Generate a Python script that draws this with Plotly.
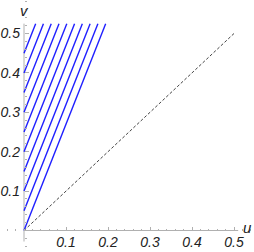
import plotly.graph_objects as go

# data
intercepts = [0.0, 0.05, 0.1, 0.15, 0.2, 0.25, 0.3, 0.35, 0.4, 0.45]
slope = 2.7
v_top = 0.525
diag_u = [0.0, 0.5]
diag_v = [0.0, 0.5]
tick_vals = [0.1, 0.2, 0.3, 0.4, 0.5]
tick_text = ["0.1", "0.2", "0.3", "0.4", "0.5"]

W, H = 254, 252
x_rng = [-24 / 420, (W - 24) / 420]
y_rng = [-(H - 230.5) / 394, 230.5 / 394]

fig = go.Figure()
for c in intercepts:
    u_end = (v_top - c) / slope
    fig.add_trace(go.Scatter(x=[0, u_end], y=[c, v_top], mode="lines",
                             line=dict(color="#1f1fff", width=1.4),
                             hoverinfo="skip", showlegend=False, cliponaxis=False))
fig.add_trace(go.Scatter(x=diag_u, y=diag_v, mode="lines",
                         line=dict(color="#444444", width=1, dash="3px,2px"),
                         hoverinfo="skip", showlegend=False))

axis_col = "#b0b0b0"
tickfont = dict(family="Liberation Sans", size=14, color="#222222", style="italic")
xpos = (0 - y_rng[0]) / (y_rng[1] - y_rng[0])
ypos = (0 - x_rng[0]) / (x_rng[1] - x_rng[0])

fig.update_xaxes(range=x_rng, anchor="free", position=xpos, showgrid=False, automargin=False,
                 zeroline=False, showline=False, tickvals=tick_vals, ticktext=tick_text,
                 ticks="inside", ticklen=4, tickcolor=axis_col, tickwidth=1,
                 tickfont=tickfont, ticklabelstandoff=1,
                 minor=dict(tick0=0, dtick=0.02, ticks="inside", ticklen=2,
                            tickcolor=axis_col, showgrid=False))
fig.update_yaxes(range=y_rng, anchor="free", position=ypos, showgrid=False, automargin=False,
                 zeroline=False, showline=False, tickvals=tick_vals, ticktext=tick_text,
                 ticks="inside", ticklen=4, tickcolor=axis_col, tickwidth=1,
                 tickfont=tickfont, ticklabelstandoff=4,
                 minor=dict(tick0=0, dtick=0.02, ticks="inside", ticklen=2,
                            tickcolor=axis_col, showgrid=False))

fig.add_shape(type="line", xref="x", yref="y", x0=0, x1=0.51, y0=0, y1=0,
              line=dict(color=axis_col, width=1), layer="below")
fig.add_shape(type="line", xref="x", yref="y", x0=0, x1=0, y0=-0.028, y1=v_top,
              line=dict(color=axis_col, width=1), layer="below")

fig.add_annotation(x=0.51, y=0, xref="x", yref="y", text="u", showarrow=False,
                   xanchor="left", yanchor="middle", xshift=3, yshift=3,
                   font=dict(family="Liberation Sans", size=15, color="#222222", style="italic"))
fig.add_annotation(x=0, y=v_top, xref="x", yref="y", text="v", showarrow=False,
                   xanchor="center", yanchor="bottom", yshift=3,
                   font=dict(family="Liberation Sans", size=15, color="#222222", style="italic"))

fig.update_layout(width=W, height=H, margin=dict(l=0, r=0, t=0, b=0),
                  paper_bgcolor="white", plot_bgcolor="white", showlegend=False)
fig.write_html("out.html", config={"displayModeBar": False},
               post_script="document.body.style.margin='0';document.body.style.overflow='hidden';")
